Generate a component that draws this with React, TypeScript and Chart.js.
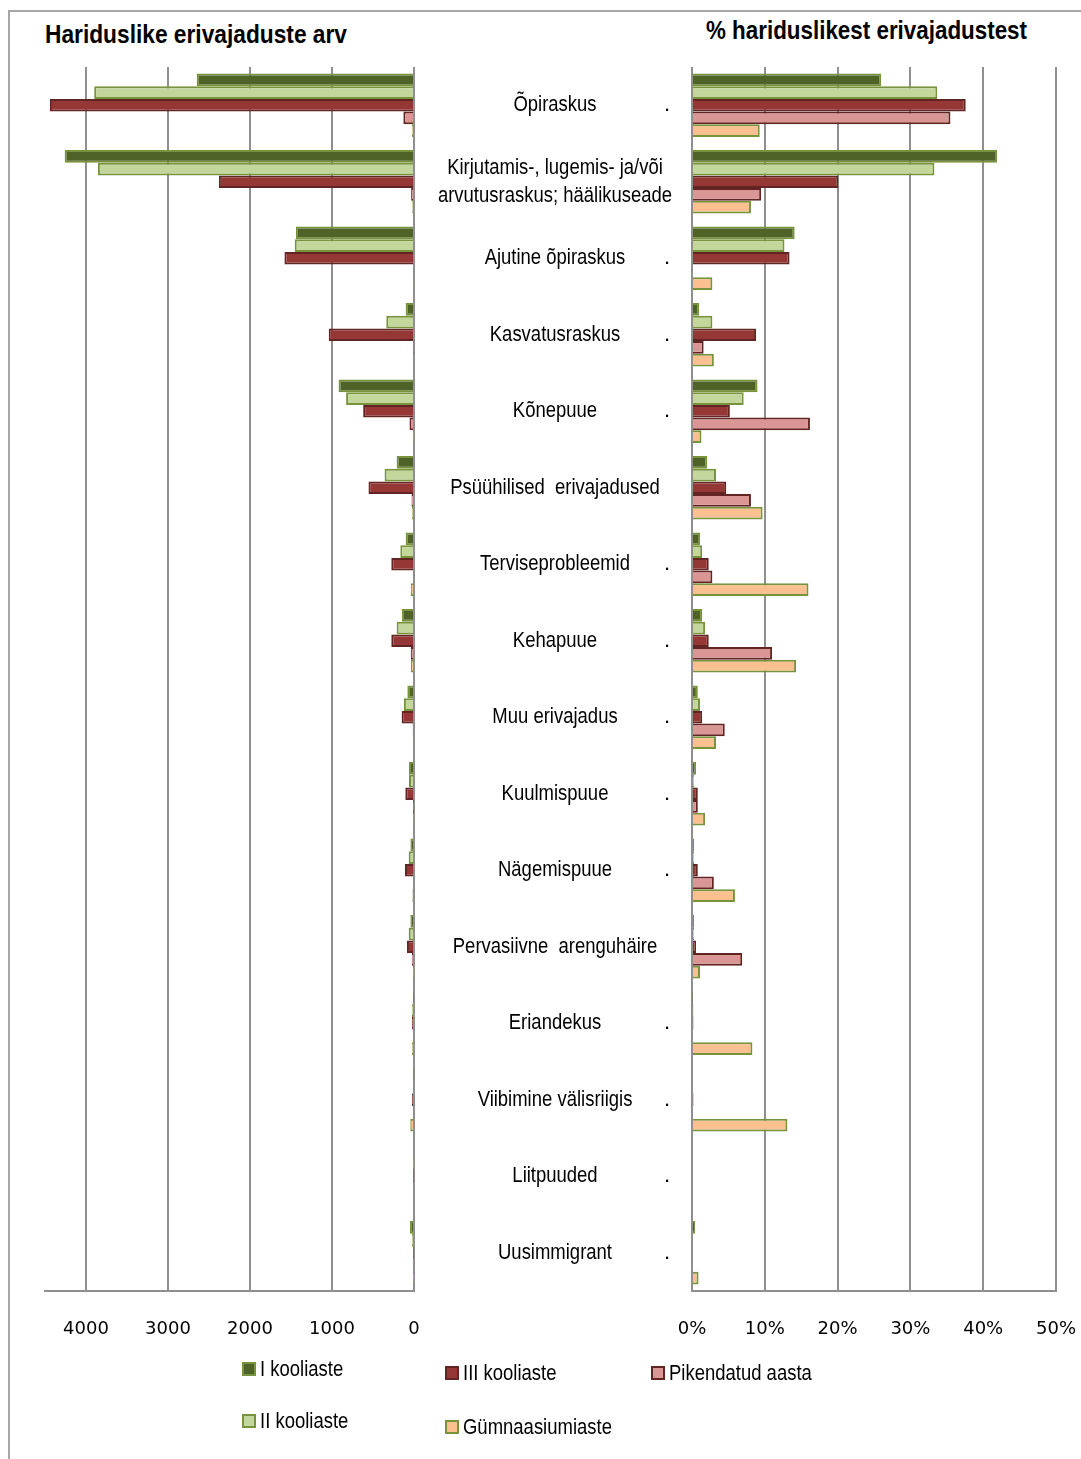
import React, { useEffect, useRef } from "react";
import { Chart, registerables } from "chart.js";

Chart.register(...registerables);

// Categories (top to bottom)
const categoryLabels = [
  "Õpiraskus",
  "Kirjutamis-, lugemis- ja/või\narvutusraskus; häälikuseade",
  "Ajutine õpiraskus",
  "Kasvatusraskus",
  "Kõnepuue",
  "Psüühilised  erivajadused",
  "Terviseprobleemid",
  "Kehapuue",
  "Muu erivajadus",
  "Kuulmispuue",
  "Nägemispuue",
  "Pervasiivne  arenguhäire",
  "Eriandekus",
  "Viibimine välisriigis",
  "Liitpuuded",
  "Uusimmigrant",
];
const labelDots = [true, false, true, true, true, false, true, true, true, true, true, false, true, true, true, true];

const seriesNames = ["I kooliaste", "II kooliaste", "III kooliaste", "Pikendatud aasta", "Gümnaasiumiaste"];

// Number of special educational needs
const countsI = [2650, 4260, 1440, 102, 920, 212, 102, 147, 81, 61, 44, 44, 3, 5, 0, 50];
const countsII = [3900, 3855, 1455, 338, 828, 359, 167, 212, 123, 61, 65, 65, 25, 0, 3, 25];
const countsIII = [4440, 2380, 1580, 1040, 620, 555, 277, 277, 151, 106, 110, 86, 25, 25, 5, 5];
const countsExt = [130, 35, 0, 6, 55, 30, 10, 40, 16, 3, 11, 25, 0, 0, 0, 0];
const countsGym = [26, 22, 6, 9, 5, 24, 40, 38, 8, 6, 20, 4, 24, 45, 0, 3];

// Share of all special educational needs, %
const shareI = [26.0, 41.9, 14.1, 1.0, 9.0, 2.1, 1.1, 1.4, 0.8, 0.55, 0.3, 0.3, 0.05, 0.1, 0, 0.45];
const shareII = [33.7, 33.3, 12.7, 2.8, 7.1, 3.3, 1.4, 1.8, 1.1, 0.3, 0.3, 0.3, 0.2, 0, 0.1, 0.1];
const shareIII = [37.6, 20.1, 13.4, 8.8, 5.2, 4.7, 2.3, 2.3, 1.4, 0.8, 0.8, 0.55, 0.2, 0.2, 0.15, 0.15];
const shareExt = [35.5, 9.5, 0, 1.6, 16.2, 8.1, 2.8, 11.0, 4.5, 0.8, 3.0, 6.9, 0, 0, 0, 0];
const shareGym = [9.3, 8.1, 2.8, 3.0, 1.3, 9.7, 16.0, 14.3, 3.3, 1.8, 5.9, 1.1, 8.3, 13.1, 0, 0.9];

const countTicks = [0, 1000, 2000, 3000, 4000];
const shareTicks = [0, 10, 20, 30, 40, 50];

const fills = ["#4F6228", "#C3D69B", "#953735", "#D99694", "#FAC090"];
const borders = ["#77933C", "#77933C", "#632523", "#632523", "#77933C"];

const GRID = "#8f8f8f";
const TEXT_FONT = "'Liberation Sans', Arial, sans-serif";
const TICK_FONT = "'DejaVu Sans', sans-serif";
const NARROW = 0.84;

const keys = categoryLabels.map((_, i) => String(i));

function makeDatasets(series: number[][]) {
  return series.map((data, i) => ({
    label: seriesNames[i],
    data,
    backgroundColor: fills[i],
    borderColor: borders[i],
    borderWidth: 2,
    categoryPercentage: 0.83,
    barPercentage: 1,
  }));
}

const centerLabels = {
  id: "centerLabels",
  afterDraw(chart: any) {
    const { ctx, chartArea, scales } = chart;
    const y = scales.y;
    ctx.save();
    ctx.fillStyle = "#000";
    ctx.font = `22px ${TEXT_FONT}`;
    ctx.textBaseline = "middle";
    ctx.textAlign = "center";
    const cx = chartArea.left - 137;
    categoryLabels.forEach((label, i) => {
      const cy = y.getPixelForValue(i);
      const lines = label.split("\n");
      lines.forEach((line, k) => {
        const ly = cy + (k - (lines.length - 1) / 2) * 28;
        ctx.save();
        ctx.translate(cx, ly);
        ctx.scale(NARROW, 1);
        ctx.fillText(line, 0, 0);
        ctx.restore();
      });
      if (labelDots[i]) {
        ctx.fillText(".", chartArea.left - 25, cy);
      }
    });
    ctx.restore();
  },
};

function baseOptions(xScale: any) {
  return {
    indexAxis: "y" as const,
    responsive: false,
    animation: false as const,
    events: [],
    plugins: { legend: { display: false }, tooltip: { enabled: false } },
    scales: {
      x: {
        type: "linear",
        ...xScale,
        afterFit: (s: any) => {
          // keep the plot edges where the layout padding puts them
          s.height = 69;
          s.paddingLeft = 0;
          s.paddingRight = 0;
        },
        grid: { color: GRID, lineWidth: 2, drawTicks: false },
        border: { display: true, color: GRID, width: 2 },
      },
      y: { type: "category", display: false, grid: { display: false } },
    },
  };
}

function CountChart() {
  const ref = useRef<HTMLCanvasElement>(null);
  useEffect(() => {
    const chart = new Chart(ref.current!, {
      type: "bar",
      data: { labels: keys, datasets: makeDatasets([countsI, countsII, countsIII, countsExt, countsGym]) as any },
      options: {
        ...baseOptions({
          min: 0,
          max: 4500,
          reverse: true,
          afterBuildTicks: (s: any) => {
            s.ticks = countTicks.map((v) => ({ value: v }));
          },
          ticks: {
            color: "#000",
            font: { family: TICK_FONT, size: 18 },
            padding: 28,
            callback: (v: any) => String(v),
          },
        }),
        layout: { padding: { left: 45, right: 16, top: 67, bottom: 0 } },
      } as any,
    });
    return () => chart.destroy();
  }, []);
  return (
    <canvas
      ref={ref}
      width={430}
      height={1360}
      style={{ position: "absolute", left: 0, top: 0, width: 430, height: 1360 }}
    />
  );
}

function ShareChart() {
  const ref = useRef<HTMLCanvasElement>(null);
  useEffect(() => {
    const chart = new Chart(ref.current!, {
      type: "bar",
      data: { labels: keys, datasets: makeDatasets([shareI, shareII, shareIII, shareExt, shareGym]) as any },
      options: {
        ...baseOptions({
          min: 0,
          max: 50,
          afterBuildTicks: (s: any) => {
            s.ticks = shareTicks.map((v) => ({ value: v }));
          },
          ticks: {
            color: "#000",
            font: { family: TICK_FONT, size: 18 },
            padding: 28,
            callback: (v: any) => `${v}%`,
          },
        }),
        layout: { padding: { left: 278, right: 25, top: 67, bottom: 0 } },
      } as any,
      plugins: [centerLabels],
    });
    return () => chart.destroy();
  }, []);
  return (
    <canvas
      ref={ref}
      width={667}
      height={1360}
      style={{ position: "absolute", left: 414, top: 0, width: 667, height: 1360 }}
    />
  );
}

const measureCtx = typeof document !== "undefined" ? document.createElement("canvas").getContext("2d") : null;

function FitText(props: { text: string; left: number; top: number; width: number; size: number; bold?: boolean }) {
  const { text, left, top, width, size, bold } = props;
  let scale = NARROW;
  if (measureCtx) {
    measureCtx.font = `${bold ? "bold " : ""}${size}px ${TEXT_FONT}`;
    scale = width / measureCtx.measureText(text).width;
  }
  return (
    <div
      style={{
        position: "absolute",
        left,
        top,
        fontFamily: TEXT_FONT,
        fontSize: size,
        fontWeight: bold ? "bold" : "normal",
        lineHeight: `${size}px`,
        whiteSpace: "pre",
        transform: `scaleX(${scale})`,
        transformOrigin: "left center",
        color: "#000",
      }}
    >
      {text}
    </div>
  );
}

// Legend laid out in two rows, column by column
const legendSlots = [
  { left: 242, top: 1362 },
  { left: 242, top: 1414 },
  { left: 445, top: 1366 },
  { left: 445, top: 1420 },
  { left: 651, top: 1366 },
];
const legendOrder = [0, 1, 2, 4, 3];

function Legend() {
  return (
    <>
      {legendOrder.map((s, k) => {
        const slot = legendSlots[k];
        return (
          <React.Fragment key={s}>
            <div
              style={{
                position: "absolute",
                left: slot.left,
                top: slot.top,
                width: 10,
                height: 10,
                background: fills[s],
                border: `2px solid ${borders[s]}`,
              }}
            />
            <div
              style={{
                position: "absolute",
                left: slot.left + 18,
                top: slot.top - 4,
                fontFamily: TEXT_FONT,
                fontSize: 22,
                lineHeight: "22px",
                whiteSpace: "pre",
                transform: `scaleX(${NARROW})`,
                transformOrigin: "left center",
              }}
            >
              {seriesNames[s]}
            </div>
          </React.Fragment>
        );
      })}
    </>
  );
}

export default function App() {
  return (
    <div style={{ position: "absolute", left: 0, top: 0, width: 1081, height: 1459, overflow: "hidden", background: "#fff" }}>
      <div
        style={{
          position: "absolute",
          left: 8,
          top: 10,
          width: 1100,
          height: 1480,
          borderLeft: "2px solid #a6a6a6",
          borderTop: "2px solid #a6a6a6",
        }}
      />
      <FitText text="Hariduslike erivajaduste arv" left={45} top={22} width={302} size={25} bold />
      <FitText text="% hariduslikest erivajadustest" left={706} top={18} width={321} size={25} bold />
      <CountChart />
      <ShareChart />
      <Legend />
    </div>
  );
}
